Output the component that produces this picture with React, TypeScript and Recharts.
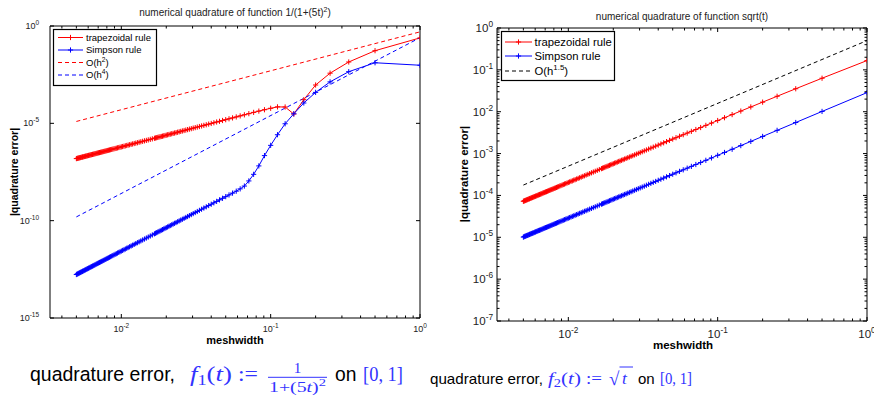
import React from "react";
import { LineChart, Line, XAxis, YAxis } from "recharts";

const SANS = "'Liberation Sans', Arial, Helvetica, sans-serif";
const SERIF = "'Liberation Serif', 'Times New Roman', serif";
const MATH_BLUE = "#3333ff";
const RED = "#ff0000";
const BLUE = "#0000ff";

// meshwidth h = 1/n, n = 1..60, then every 2nd n up to 200
const meshwidth = [
  1, 0.5, 0.3333, 0.25, 0.2, 0.1667, 0.1429, 0.125, 0.1111, 0.1,
  0.09091, 0.08333, 0.07692, 0.07143, 0.06667, 0.0625, 0.05882, 0.05556, 0.05263, 0.05,
  0.04762, 0.04545, 0.04348, 0.04167, 0.04, 0.03846, 0.03704, 0.03571, 0.03448, 0.03333,
  0.03226, 0.03125, 0.0303, 0.02941, 0.02857, 0.02778, 0.02703, 0.02632, 0.02564, 0.025,
  0.02439, 0.02381, 0.02326, 0.02273, 0.02222, 0.02174, 0.02128, 0.02083, 0.02041, 0.02,
  0.01961, 0.01923, 0.01887, 0.01852, 0.01818, 0.01786, 0.01754, 0.01724, 0.01695, 0.01667,
  0.01613, 0.01563, 0.01515, 0.01471, 0.01429, 0.01389, 0.01351, 0.01316, 0.01282, 0.0125,
  0.0122, 0.0119, 0.01163, 0.01136, 0.01111, 0.01087, 0.01064, 0.01042, 0.0102, 0.01,
  0.009804, 0.009615, 0.009434, 0.009259, 0.009091, 0.008929, 0.008772, 0.008621, 0.008475, 0.008333,
  0.008197, 0.008065, 0.007937, 0.007813, 0.007692, 0.007576, 0.007463, 0.007353, 0.007246, 0.007143,
  0.007042, 0.006944, 0.006849, 0.006757, 0.006667, 0.006579, 0.006494, 0.00641, 0.006329, 0.00625,
  0.006173, 0.006098, 0.006024, 0.005952, 0.005882, 0.005814, 0.005747, 0.005682, 0.005618, 0.005556,
  0.005495, 0.005435, 0.005376, 0.005319, 0.005263, 0.005208, 0.005155, 0.005102, 0.005051, 0.005,
];

// f1(t) = 1/(1+(5t)^2)
const trapF1 = [
  0.2446, 0.0539, 0.01416, 3.77e-3, 9.31e-4, 1.64e-4, 3.0e-5, 6.9e-5, 7.0e-5, 5.93e-5,
  5.0e-5, 4.25e-5, 3.65e-5, 3.14e-5, 2.74e-5, 2.41e-5, 2.13e-5, 1.9e-5, 1.71e-5, 1.54e-5,
  1.4e-5, 1.27e-5, 1.17e-5, 1.07e-5, 9.86e-6, 9.12e-6, 8.45e-6, 7.86e-6, 7.33e-6, 6.85e-6,
  6.41e-6, 6.02e-6, 5.66e-6, 5.33e-6, 5.03e-6, 4.76e-6, 4.5e-6, 4.27e-6, 4.05e-6, 3.85e-6,
  3.67e-6, 3.49e-6, 3.33e-6, 3.18e-6, 3.04e-6, 2.91e-6, 2.79e-6, 2.67e-6, 2.57e-6, 2.47e-6,
  2.37e-6, 2.28e-6, 2.19e-6, 2.11e-6, 2.04e-6, 1.97e-6, 1.9e-6, 1.83e-6, 1.77e-6, 1.71e-6,
  1.6e-6, 1.5e-6, 1.41e-6, 1.33e-6, 1.26e-6, 1.19e-6, 1.13e-6, 1.07e-6, 1.01e-6, 9.63e-7,
  9.17e-7, 8.73e-7, 8.33e-7, 7.96e-7, 7.61e-7, 7.28e-7, 6.97e-7, 6.69e-7, 6.42e-7, 6.16e-7,
  5.92e-7, 5.7e-7, 5.49e-7, 5.28e-7, 5.09e-7, 4.91e-7, 4.74e-7, 4.58e-7, 4.43e-7, 4.28e-7,
  4.14e-7, 4.01e-7, 3.88e-7, 3.76e-7, 3.65e-7, 3.54e-7, 3.43e-7, 3.33e-7, 3.24e-7, 3.14e-7,
  3.06e-7, 2.97e-7, 2.89e-7, 2.81e-7, 2.74e-7, 2.67e-7, 2.6e-7, 2.53e-7, 2.47e-7, 2.41e-7,
  2.35e-7, 2.29e-7, 2.24e-7, 2.18e-7, 2.13e-7, 2.08e-7, 2.04e-7, 1.99e-7, 1.95e-7, 1.9e-7,
  1.86e-7, 1.82e-7, 1.78e-7, 1.74e-7, 1.71e-7, 1.67e-7, 1.64e-7, 1.6e-7, 1.57e-7, 1.54e-7,
];
const simpsonF1 = [
  9.65e-3, 0.01294, 4.5e-3, 1.35e-3, 3.89e-4, 1.11e-4, 3.1e-5, 9.5e-6, 2.6e-6, 7.4e-7,
  2.2e-7, 6.5e-8, 2.4e-8, 1.1e-8, 6.0e-9, 4.3e-9, 3.27e-9, 2.6e-9, 2.1e-9, 1.71e-9,
  1.41e-9, 1.17e-9, 9.77e-10, 8.24e-10, 7.0e-10, 5.98e-10, 5.15e-10, 4.45e-10, 3.87e-10, 3.38e-10,
  2.96e-10, 2.61e-10, 2.31e-10, 2.05e-10, 1.82e-10, 1.63e-10, 1.46e-10, 1.31e-10, 1.18e-10, 1.07e-10,
  9.68e-11, 8.79e-11, 8.0e-11, 7.3e-11, 6.67e-11, 6.11e-11, 5.61e-11, 5.15e-11, 4.74e-11, 4.38e-11,
  4.04e-11, 3.74e-11, 3.47e-11, 3.22e-11, 2.99e-11, 2.78e-11, 2.59e-11, 2.42e-11, 2.26e-11, 2.11e-11,
  1.85e-11, 1.63e-11, 1.44e-11, 1.28e-11, 1.14e-11, 1.02e-11, 9.12e-12, 8.2e-12, 7.39e-12, 6.68e-12,
  6.05e-12, 5.49e-12, 5.0e-12, 4.56e-12, 4.17e-12, 3.82e-12, 3.5e-12, 3.22e-12, 2.96e-12, 2.74e-12,
  2.53e-12, 2.34e-12, 2.17e-12, 2.01e-12, 1.87e-12, 1.74e-12, 1.62e-12, 1.51e-12, 1.41e-12, 1.32e-12,
  1.23e-12, 1.16e-12, 1.09e-12, 1.02e-12, 9.58e-13, 9.01e-13, 8.48e-13, 8.0e-13, 7.54e-13, 7.12e-13,
  6.73e-13, 6.36e-13, 6.02e-13, 5.7e-13, 5.4e-13, 5.12e-13, 4.86e-13, 4.62e-13, 4.39e-13, 4.17e-13,
  3.97e-13, 3.78e-13, 3.6e-13, 3.43e-13, 3.27e-13, 3.12e-13, 2.98e-13, 2.85e-13, 2.72e-13, 2.6e-13,
  2.49e-13, 2.39e-13, 2.28e-13, 2.19e-13, 2.1e-13, 2.01e-13, 1.93e-13, 1.85e-13, 1.78e-13, 1.71e-13,
];

// f2(t) = sqrt(t)
const trapF2 = [
  0.1667, 0.0631, 0.03538, 0.02338, 0.01693, 0.01299, 0.01037, 0.00854, 0.00719, 0.00616,
  0.005355, 0.004712, 0.004189, 0.003756, 0.003394, 0.003085, 0.002822, 0.002593, 0.002395, 0.00222,
  0.002066, 0.001929, 0.001806, 0.001696, 0.001596, 0.001506, 0.001425, 0.00135, 0.001281, 0.001219,
  0.001161, 0.001108, 0.001058, 0.001013, 0.00097, 0.00093, 0.000893, 0.000859, 0.000826, 0.000796,
  0.000767, 0.00074, 0.000715, 0.000691, 0.000668, 0.000647, 0.000626, 0.000607, 0.000589, 0.000571,
  0.000555, 0.000539, 0.000524, 0.00051, 0.000496, 0.000483, 0.00047, 0.000458, 0.000447, 0.000436,
  0.000415, 0.000396, 0.000378, 0.000362, 0.000347, 0.000332, 0.000319, 0.000307, 0.000295, 0.000284,
  0.000274, 0.000264, 0.000255, 0.000246, 0.000238, 0.000231, 0.000223, 0.000217, 0.00021, 0.000204,
  0.000198, 0.000192, 0.000187, 0.000182, 0.000177, 0.000172, 0.000168, 0.000163, 0.000159, 0.000155,
  0.000151, 0.000148, 0.000144, 0.000141, 0.000138, 0.000135, 0.000132, 0.000129, 0.000126, 0.000123,
  0.000121, 0.000118, 0.000116, 0.000114, 0.000111, 0.000109, 0.000107, 0.000105, 0.000103, 0.000101,
  9.92e-5, 9.74e-5, 9.57e-5, 9.4e-5, 9.24e-5, 9.08e-5, 8.92e-5, 8.77e-5, 8.62e-5, 8.48e-5,
  8.34e-5, 8.21e-5, 8.08e-5, 7.95e-5, 7.82e-5, 7.7e-5, 7.58e-5, 7.47e-5, 7.36e-5, 7.25e-5,
];
const simpsonF2 = [
  0.0286, 0.01015, 0.00552, 0.003588, 0.002567, 0.001952, 0.00155, 0.001268, 0.001063, 0.000908,
  0.000787, 0.00069, 0.000612, 0.000548, 0.000494, 0.000448, 0.000409, 0.000376, 0.000347, 0.000321,
  0.000298, 0.000278, 0.00026, 0.000244, 0.00023, 0.000216, 0.000205, 0.000194, 0.000184, 0.000175,
  0.0001663, 0.0001585, 0.0001514, 0.0001448, 0.0001386, 0.0001329, 0.0001275, 0.0001225, 0.0001178, 0.0001134,
  0.0001093, 0.0001054, 0.0001018, 9.83e-5, 9.51e-5, 9.2e-5, 8.91e-5, 8.63e-5, 8.37e-5, 8.12e-5,
  7.88e-5, 7.65e-5, 7.44e-5, 7.23e-5, 7.04e-5, 6.85e-5, 6.67e-5, 6.5e-5, 6.33e-5, 6.18e-5,
  5.88e-5, 5.61e-5, 5.35e-5, 5.12e-5, 4.9e-5, 4.7e-5, 4.51e-5, 4.33e-5, 4.17e-5, 4.01e-5,
  3.87e-5, 3.73e-5, 3.6e-5, 3.48e-5, 3.36e-5, 3.25e-5, 3.15e-5, 3.05e-5, 2.96e-5, 2.87e-5,
  2.79e-5, 2.71e-5, 2.63e-5, 2.56e-5, 2.49e-5, 2.42e-5, 2.36e-5, 2.3e-5, 2.24e-5, 2.18e-5,
  2.13e-5, 2.08e-5, 2.03e-5, 1.98e-5, 1.94e-5, 1.89e-5, 1.85e-5, 1.81e-5, 1.77e-5, 1.73e-5,
  1.7e-5, 1.66e-5, 1.63e-5, 1.59e-5, 1.56e-5, 1.53e-5, 1.5e-5, 1.47e-5, 1.45e-5, 1.42e-5,
  1.39e-5, 1.37e-5, 1.34e-5, 1.32e-5, 1.29e-5, 1.27e-5, 1.25e-5, 1.23e-5, 1.21e-5, 1.19e-5,
  1.17e-5, 1.15e-5, 1.13e-5, 1.11e-5, 1.1e-5, 1.08e-5, 1.06e-5, 1.05e-5, 1.03e-5, 1.01e-5,
];

// reference slopes between the smallest and largest meshwidth
const refH = [0.005, 1];
const orderH2 = [1.25e-5, 0.5];
const orderH4 = [1.56e-10, 0.25];
const orderH15 = [1.77e-4, 0.5];

const xDomain = [0.00333, 1];
const xTicks = [
  0.004, 0.005, 0.006, 0.007, 0.008, 0.009, 0.01,
  0.02, 0.03, 0.04, 0.05, 0.06, 0.07, 0.08, 0.09, 0.1,
  0.2, 0.3, 0.4, 0.5, 0.6, 0.7, 0.8, 0.9, 1,
];
const yTicksF1 = [1e-15, 1e-10, 1e-5, 1];
const yDecadesF2 = [1e-7, 1e-6, 1e-5, 1e-4, 1e-3, 1e-2, 1e-1, 1];
const minorSteps = [2, 3, 4, 5, 6, 7, 8, 9];
const yTicksF2 = yDecadesF2.flatMap((d) => (d < 1 ? [d, ...minorSteps.map((m) => m * d)] : [d]));

function LogTick(props: any) {
  const { x, y, payload, side, font, gap } = props;
  const v = payload.value as number;
  const p = Math.log10(v);
  const major = Math.abs(p - Math.round(p)) < 1e-6;
  const len = major ? 4 : 2.5;
  const exp = String(Math.round(p));
  const label = (tx: number, ty: number, anchor: string) => (
    <text x={tx} y={ty} textAnchor={anchor} fontSize={font} fontFamily={SANS} fill="#222">
      <tspan>10</tspan>
      <tspan dy={-font * 0.45} fontSize={font * 0.72}>{exp}</tspan>
    </text>
  );
  if (side === "bottom")
    return (
      <g>
        <line x1={x} y1={y} x2={x} y2={y - len} stroke="#000" />
        {major && label(x, y + gap, "middle")}
      </g>
    );
  if (side === "top") return <line x1={x} y1={y} x2={x} y2={y + len} stroke="#000" />;
  if (side === "left")
    return (
      <g>
        <line x1={x} y1={y} x2={x + len} y2={y} stroke="#000" />
        {major && label(x - gap, y + font * 0.35, "end")}
      </g>
    );
  return <line x1={x} y1={y} x2={x - len} y2={y} stroke="#000" />;
}

const plusDot = (color: string) => (p: any) => (
  <path
    key={`d${p.index}`}
    d={`M${p.cx - 2.6},${p.cy}H${p.cx + 2.6}M${p.cx},${p.cy - 2.6}V${p.cy + 2.6}`}
    stroke={color}
    strokeWidth={1}
    fill="none"
  />
);

type Series = { name: string; xs: number[]; ys: number[]; color: string; dashed?: boolean };

function ErrorPlot(props: {
  width: number;
  height: number;
  margin: { top: number; right: number; bottom: number; left: number };
  yWidth: number;
  yDomain: number[];
  yTicks: number[];
  series: Series[];
  font: number;
  xGap: number;
  yGap: number;
}) {
  const { width, height, margin, yWidth, yDomain, yTicks, series, font, xGap, yGap } = props;
  const axisLine = { stroke: "#000", strokeWidth: 1 };
  const common = { type: "number" as const, scale: "log" as const, allowDataOverflow: true, interval: 0, tickLine: false, tickSize: 0, tickMargin: 0, axisLine };
  return (
    <LineChart width={width} height={height} margin={margin} style={{ overflow: "visible" }}>
      <XAxis
        {...common}
        xAxisId="b"
        dataKey="h"
        domain={xDomain}
        ticks={xTicks}
        height={32}
        tick={(p: any) => <LogTick {...p} side="bottom" font={font} gap={xGap} />}
      />
      <XAxis
        {...common}
        xAxisId="t"
        orientation="top"
        dataKey="h"
        domain={xDomain}
        ticks={xTicks}
        height={1}
        tick={(p: any) => <LogTick {...p} side="top" font={font} gap={0} />}
      />
      <YAxis
        {...common}
        yAxisId="l"
        domain={yDomain}
        ticks={yTicks}
        width={yWidth}
        tick={(p: any) => <LogTick {...p} side="left" font={font} gap={yGap} />}
      />
      <YAxis
        {...common}
        yAxisId="r"
        orientation="right"
        domain={yDomain}
        ticks={yTicks}
        width={1}
        tick={(p: any) => <LogTick {...p} side="right" font={font} gap={0} />}
      />
      {/* invisible companion so the top and right frame axes have a series */}
      <Line
        xAxisId="t"
        yAxisId="r"
        data={refH.map((h, i) => ({ h, e: yDomain[i] }))}
        dataKey="e"
        stroke="none"
        dot={false}
        activeDot={false}
        isAnimationActive={false}
      />
      {series.map((s) => (
        <Line
          key={s.name}
          xAxisId="b"
          yAxisId="l"
          data={s.xs.map((h, i) => ({ h, e: s.ys[i] }))}
          dataKey="e"
          stroke={s.color}
          strokeWidth={1}
          strokeDasharray={s.dashed ? "4 3" : undefined}
          dot={s.dashed ? false : plusDot(s.color)}
          activeDot={false}
          isAnimationActive={false}
        />
      ))}
    </LineChart>
  );
}

type LegendItem = { label: React.ReactNode; color: string; dashed?: boolean; marker?: boolean };

function LegendBox(props: {
  left: number;
  top: number;
  width: number;
  height: number;
  rows: number[];
  x0: number;
  x1: number;
  textX: number;
  font: number;
  items: LegendItem[];
}) {
  const { left, top, width, height, rows, x0, x1, textX, font, items } = props;
  return (
    <svg style={{ position: "absolute", left, top, overflow: "visible" }} width={width} height={height}>
      <rect x={0.5} y={0.5} width={width - 1} height={height - 1} fill="#fff" stroke="#000" strokeWidth={1.2} />
      {items.map((it, i) => {
        const cy = rows[i];
        const cx = (x0 + x1) / 2;
        return (
          <g key={i}>
            <line x1={x0} y1={cy} x2={x1} y2={cy} stroke={it.color} strokeDasharray={it.dashed ? "4 3" : undefined} />
            {it.marker && (
              <path d={`M${cx - 2.6},${cy}H${cx + 2.6}M${cx},${cy - 2.6}V${cy + 2.6}`} stroke={it.color} />
            )}
            <text x={textX} y={cy + font * 0.36} fontSize={font} fontFamily={SANS} fill="#000">
              {it.label}
            </text>
          </g>
        );
      })}
    </svg>
  );
}

const sup = (s: string, font: number) => (
  <>
    <tspan dy={-font * 0.42} fontSize={font * 0.7}>
      {s}
    </tspan>
    <tspan dy={font * 0.42}>)</tspan>
  </>
);

// captions below the plots, laid out as svg text so the pieces sit on one baseline
function Captions() {
  return (
    <svg style={{ position: "absolute", left: 0, top: 0, overflow: "visible" }} width={874} height={395}>
      {/* left */}
      <text x={30} y={381} fontFamily={SANS} fontSize={19.3} fill="#000" textLength={145} lengthAdjust="spacingAndGlyphs">
        quadrature error,
      </text>
      <text x={190} y={381} fontFamily={SERIF} fontSize={22} fill={MATH_BLUE} textLength={42} lengthAdjust="spacingAndGlyphs">
        <tspan fontStyle="italic">f</tspan>
        <tspan fontSize={15} dy={4}>1</tspan>
        <tspan dy={-4}>(</tspan>
        <tspan fontStyle="italic">t</tspan>
        <tspan>)</tspan>
      </text>
      <text x={238} y={381} fontFamily={SERIF} fontSize={22} fill={MATH_BLUE} textLength={20} lengthAdjust="spacingAndGlyphs">
        :=
      </text>
      <text x={297.5} y={373} fontFamily={SERIF} fontSize={15} fill={MATH_BLUE} textAnchor="middle">
        1
      </text>
      <line x1={268} y1={377.3} x2={327} y2={377.3} stroke={MATH_BLUE} strokeWidth={1} />
      <text x={269} y={391.5} fontFamily={SERIF} fontSize={15} fill={MATH_BLUE} textLength={57} lengthAdjust="spacingAndGlyphs">
        <tspan>1+(5</tspan>
        <tspan fontStyle="italic">t</tspan>
        <tspan>)</tspan>
        <tspan fontSize={11} dy={-6}>2</tspan>
      </text>
      <text x={335} y={381} fontFamily={SANS} fontSize={19.3} fill="#000">
        on
      </text>
      <text x={363} y={381} fontFamily={SERIF} fontSize={21} fill={MATH_BLUE} textLength={40} lengthAdjust="spacingAndGlyphs">
        [0, 1]
      </text>

      {/* right */}
      <text x={430} y={384} fontFamily={SANS} fontSize={15} fill="#000" textLength={113} lengthAdjust="spacingAndGlyphs">
        quadrature error,
      </text>
      <text x={548} y={384} fontFamily={SERIF} fontSize={17.5} fill={MATH_BLUE} textLength={33} lengthAdjust="spacingAndGlyphs">
        <tspan fontStyle="italic">f</tspan>
        <tspan fontSize={12} dy={3}>2</tspan>
        <tspan dy={-3}>(</tspan>
        <tspan fontStyle="italic">t</tspan>
        <tspan>)</tspan>
      </text>
      <text x={586} y={384} fontFamily={SERIF} fontSize={17.5} fill={MATH_BLUE} textLength={16} lengthAdjust="spacingAndGlyphs">
        :=
      </text>
      <text x={609} y={385} fontFamily={SERIF} fontSize={19} fill={MATH_BLUE}>
        {"\u221A"}
      </text>
      <line x1={619.5} y1={367} x2={633} y2={367} stroke={MATH_BLUE} strokeWidth={1} />
      <text x={622} y={384} fontFamily={SERIF} fontSize={17.5} fill={MATH_BLUE} fontStyle="italic">
        t
      </text>
      <text x={638} y={384} fontFamily={SANS} fontSize={15} fill="#000">
        on
      </text>
      <text x={660} y={384} fontFamily={SERIF} fontSize={17} fill={MATH_BLUE} textLength={32} lengthAdjust="spacingAndGlyphs">
        [0, 1]
      </text>
    </svg>
  );
}

export default function App() {
  const leftSeries: Series[] = [
    { name: "trap", xs: meshwidth, ys: trapF1, color: RED },
    { name: "simpson", xs: meshwidth, ys: simpsonF1, color: BLUE },
    { name: "h2", xs: refH, ys: orderH2, color: RED, dashed: true },
    { name: "h4", xs: refH, ys: orderH4, color: BLUE, dashed: true },
  ];
  const rightSeries: Series[] = [
    { name: "trap", xs: meshwidth, ys: trapF2, color: RED },
    { name: "simpson", xs: meshwidth, ys: simpsonF2, color: BLUE },
    { name: "h15", xs: refH, ys: orderH15, color: "#000", dashed: true },
  ];
  return (
    <div style={{ position: "absolute", left: 0, top: 0, width: 874, height: 395, background: "#fff", overflow: "hidden" }}>
      <div style={{ position: "absolute", left: 0, top: 0 }}>
        <ErrorPlot
          width={440}
          height={350}
          margin={{ top: 25, right: 19, bottom: 0, left: 0 }}
          yWidth={50}
          yDomain={[1e-15, 1]}
          yTicks={yTicksF1}
          series={leftSeries}
          font={9}
          xGap={14}
          yGap={11}
        />
      </div>
      <div style={{ position: "absolute", left: 440, top: 0 }}>
        <ErrorPlot
          width={434}
          height={353}
          margin={{ top: 27, right: 6, bottom: 0, left: 0 }}
          yWidth={57}
          yDomain={[1e-7, 1]}
          yTicks={yTicksF2}
          series={rightSeries}
          font={11.5}
          xGap={17}
          yGap={4}
        />
      </div>

      {/* titles */}
      <div style={{ position: "absolute", left: 235, top: 6, transform: "translateX(-50%)", fontFamily: SANS, fontSize: 10, whiteSpace: "nowrap", color: "#222" }}>
        numerical quadrature of function 1/(1+(5t)<sup style={{ fontSize: 7 }}>2</sup>)
      </div>
      <div style={{ position: "absolute", left: 682, top: 11, transform: "translateX(-50%)", fontFamily: SANS, fontSize: 10, whiteSpace: "nowrap", color: "#222" }}>
        numerical quadrature of function sqrt(t)
      </div>

      {/* axis labels */}
      <div style={{ position: "absolute", left: 235, top: 334, transform: "translateX(-50%)", fontFamily: SANS, fontSize: 11, fontWeight: "bold", whiteSpace: "nowrap" }}>
        meshwidth
      </div>
      <div style={{ position: "absolute", left: 683, top: 339, transform: "translateX(-50%)", fontFamily: SANS, fontSize: 11.5, fontWeight: "bold", whiteSpace: "nowrap" }}>
        meshwidth
      </div>
      <div style={{ position: "absolute", left: 14, top: 172, transform: "translate(-50%, -50%) rotate(-90deg)", fontFamily: SANS, fontSize: 10.5, fontWeight: "bold", whiteSpace: "nowrap" }}>
        |quadrature error|
      </div>
      <div style={{ position: "absolute", left: 464, top: 174, transform: "translate(-50%, -50%) rotate(-90deg)", fontFamily: SANS, fontSize: 11.5, fontWeight: "bold", whiteSpace: "nowrap" }}>
        |quadrature error|
      </div>

      <LegendBox
        left={53}
        top={29}
        width={104}
        height={57}
        rows={[8.5, 21, 33.5, 46]}
        x0={5}
        x1={30}
        textX={33}
        font={9.5}
        items={[
          { label: "trapezoidal rule", color: RED, marker: true },
          { label: "Simpson rule", color: BLUE, marker: true },
          { label: <>O(h{sup("2", 9.5)}</>, color: RED, dashed: true },
          { label: <>O(h{sup("4", 9.5)}</>, color: BLUE, dashed: true },
        ]}
      />
      <LegendBox
        left={501}
        top={31}
        width={114}
        height={50}
        rows={[11, 25, 40]}
        x0={4}
        x1={31}
        textX={33.5}
        font={11.3}
        items={[
          { label: "trapezoidal rule", color: RED, marker: true },
          { label: "Simpson rule", color: BLUE, marker: true },
          { label: <>O(h{sup("1.5", 11.3)}</>, color: "#000", dashed: true },
        ]}
      />

      <Captions />
    </div>
  );
}
